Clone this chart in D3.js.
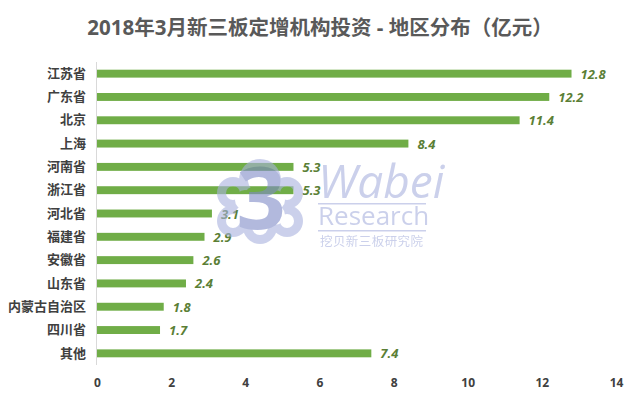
<!DOCTYPE html>
<html>
<head>
<meta charset="utf-8">
<script src="https://cdn.jsdelivr.net/npm/d3@7/dist/d3.min.js"></script>
<style>
  body { margin: 0; background: #fff; }
  text { font-family: "Open Sans", "Noto Sans CJK SC", sans-serif; }
</style>
</head>
<body>
<div id="chart"></div>
<script>
// data
var regions = ["江苏省", "广东省", "北京", "上海", "河南省", "浙江省", "河北省", "福建省", "安徽省", "山东省", "内蒙古自治区", "四川省", "其他"]
var amounts = [12.8, 12.2, 11.4, 8.4, 5.3, 5.3, 3.1, 2.9, 2.6, 2.4, 1.8, 1.7, 7.4]
var xTicks = [0, 2, 4, 6, 8, 10, 12, 14]
var title = "2018年3月新三板定增机构投资 - 地区分布（亿元）"

const width = 640
const height = 399
const margin = { top: 62, right: 24, bottom: 34, left: 97 }

const svg = d3.select('#chart').append('svg')
    .attr('width', width)
    .attr('height', height)

const x = d3.scaleLinear().domain([0, 14]).range([margin.left, width - margin.right])
const y = d3.scaleBand().domain(regions).range([margin.top, height - margin.bottom]).paddingInner(0.66).paddingOuter(0.33)

// title
svg.append('text')
    .attr('x', 320)
    .attr('y', 35)
    .attr('text-anchor', 'middle')
    .attr('font-size', 20.5)
    .attr('font-weight', 'bold')
    .attr('fill', '#595959')
    .text(title)

// bars
svg.selectAll('rect.bar').data(regions).enter().append('rect')
    .attr('class', 'bar')
    .attr('x', x(0))
    .attr('y', d => y(d))
    .attr('width', (d, i) => x(amounts[i]) - x(0))
    .attr('height', y.bandwidth())
    .attr('fill', '#70AD47')

// value labels
svg.selectAll('text.val').data(regions).enter().append('text')
    .attr('class', 'val')
    .attr('x', (d, i) => x(amounts[i]) + 9)
    .attr('y', d => y(d) + y.bandwidth() / 2 + 5)
    .attr('font-size', 13)
    .attr('font-weight', 'bold')
    .attr('font-style', 'italic')
    .attr('fill', '#5B7F36')
    .text((d, i) => amounts[i].toFixed(1))

// y axis: line + category labels
svg.append('line')
    .attr('x1', x(0) - 0.5).attr('x2', x(0) - 0.5)
    .attr('y1', margin.top).attr('y2', height - margin.bottom)
    .attr('stroke', '#d9d9d9')
    .attr('stroke-width', 1)

const yAxis = svg.append('g')
    .attr('transform', `translate(${x(0) - 11},0)`)
    .call(d3.axisLeft(y).tickSize(0).tickPadding(0))
yAxis.select('.domain').remove()
yAxis.selectAll('text')
    .attr('font-size', 13)
    .attr('font-weight', 'bold')
    .attr('fill', '#404040')
    .attr('font-family', '"Noto Sans CJK SC", sans-serif')

// x axis labels only
const xAxis = svg.append('g')
    .attr('transform', `translate(0,${height - margin.bottom})`)
    .call(d3.axisBottom(x).tickValues(xTicks).tickSize(0).tickPadding(13))
xAxis.select('.domain').remove()
xAxis.selectAll('text')
    .attr('font-size', 12)
    .attr('font-weight', 'bold')
    .attr('fill', '#404040')
    .attr('font-family', '"Open Sans", sans-serif')

// watermark (logo cloud drawn as a masked ring)
const lobes = [[260, 180, 21], [233, 193, 16], [233, 221, 16], [287, 193, 16], [287, 221, 16], [260, 227, 17], [260, 205, 26]]
const holes = [[260, 205, 20], [245, 200, 10], [275, 200, 10], [245, 215, 10], [275, 215, 10]]
const mask = svg.append('defs').append('mask').attr('id', 'cloud')
lobes.forEach(c => mask.append('circle').attr('cx', c[0]).attr('cy', c[1]).attr('r', c[2]).attr('fill', '#fff'))
lobes.forEach(c => mask.append('circle').attr('cx', c[0]).attr('cy', c[1]).attr('r', c[2] - 9).attr('fill', '#000'))
holes.forEach(c => mask.append('circle').attr('cx', c[0]).attr('cy', c[1]).attr('r', c[2]).attr('fill', '#000'))

const wm = svg.append('g').attr('opacity', 0.6).attr('fill', '#a9b2de')
wm.append('rect')
    .attr('x', 200).attr('y', 150).attr('width', 120).attr('height', 110)
    .attr('mask', 'url(#cloud)')
wm.append('text')
    .attr('x', 261).attr('y', 229)
    .attr('text-anchor', 'middle')
    .attr('font-size', 86)
    .attr('font-weight', 'bold')
    .attr('font-family', '"Liberation Sans", sans-serif')
    .attr('fill', '#7f8bc8')
    .text('3')
wm.append('text')
    .attr('x', 318).attr('y', 198)
    .attr('font-size', 46)
    .attr('font-style', 'italic')
    .attr('font-family', '"Liberation Sans", sans-serif')
    .text('Wabei')
wm.append('rect').attr('x', 318).attr('y', 203).attr('width', 108).attr('height', 1.5)
wm.append('text')
    .attr('x', 318).attr('y', 225)
    .attr('font-size', 26)
    .attr('font-family', '"Liberation Sans", sans-serif')
    .text('Research')
wm.append('rect').attr('x', 318).attr('y', 230).attr('width', 108).attr('height', 1.5)
wm.append('text')
    .attr('x', 320).attr('y', 246)
    .attr('font-size', 12.5)
    .attr('textLength', 103)
    .attr('font-family', '"Noto Sans CJK SC", sans-serif')
    .text('挖贝新三板研究院')
</script>
</body>
</html>
